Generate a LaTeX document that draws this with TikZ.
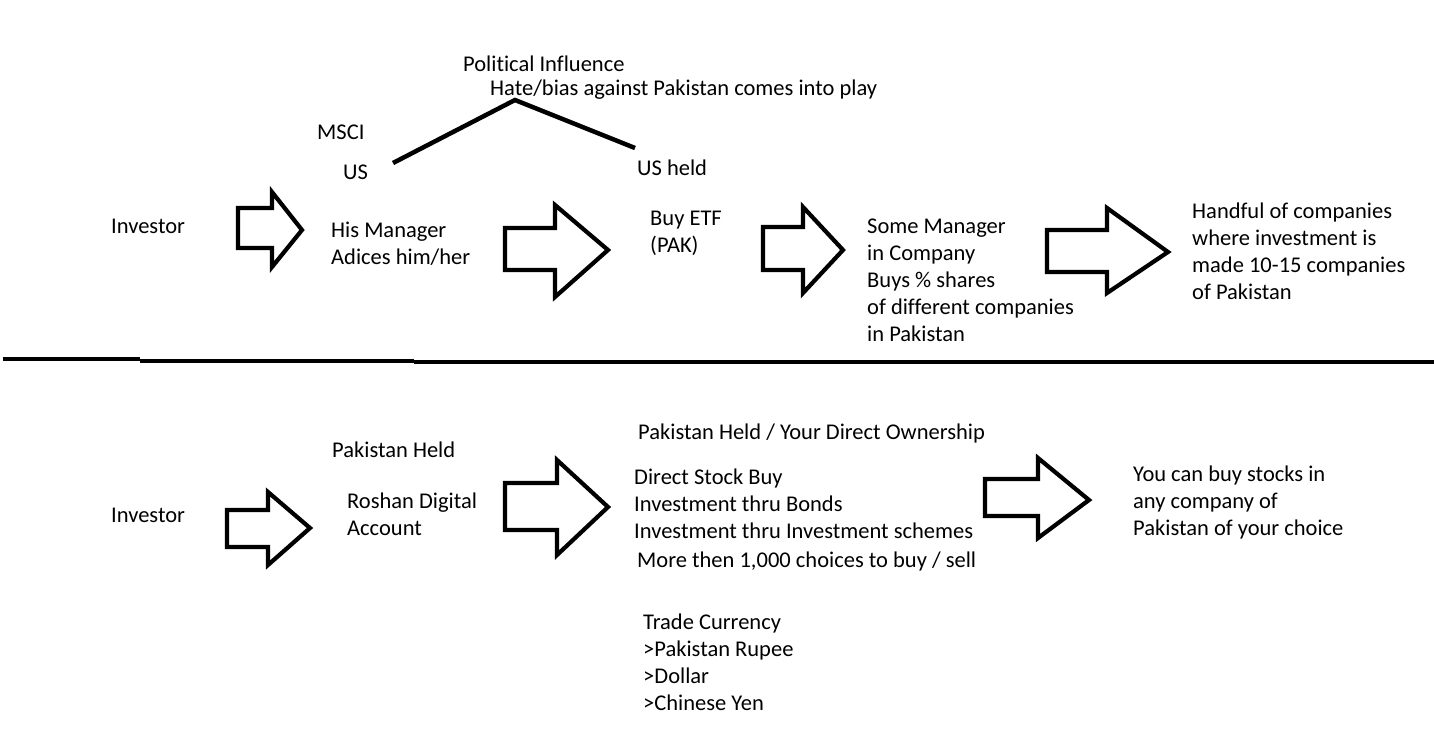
\documentclass[tikz,border=0pt]{standalone}
\usepackage{fontspec}
\setmainfont{Carlito}[Ligatures=NoCommon]
\newcommand\fatarrow[8]{%
  \draw[fatarr] (#1,#2) -- (#4,#2) -- (#4,#5) -- (#7,#8) -- (#4,#6) -- (#4,#3) -- (#1,#3) -- cycle;}
\tikzset{
  fatarr/.style={line width=4.2pt, line join=miter, fill=white},
  txt/.style={anchor=north west, inner sep=0pt, align=left, font=\fontsize{22.5}{27}\selectfont},
  stroke/.style={line width=4.5pt},
}
\begin{document}
\begin{tikzpicture}[x=1pt,y=-1pt]
\useasboundingbox (0,0) rectangle (1434,755);
\fill[white] (0,0) rectangle (1434,755);
% ---------- top row ----------
\node[txt] (pol)   at (463,52)  {\strut Political Influence};
\node[txt] (hate)  at (490,76)  {\strut Hate/bias against Pakistan comes into play};
\node[txt] (msci)  at (317,120) {\strut MSCI};
\node[txt] (us)    at (343,160) {\strut US};
\node[txt] (ush)   at (637,156) {\strut US held};
\node[txt] (inv1)  at (111,214) {\strut Investor};
\node[txt] (mgr)   at (331,218) {\strut His Manager\\Adices him/her};
\node[txt] (etf)   at (650,206) {\strut Buy ETF\\(PAK)};
\node[txt] (some)  at (867,214) {\strut Some Manager\\in Company\\Buys \% shares\\of different companies\\in Pakistan};
\node[txt] (hand)  at (1192,199) {\strut Handful of companies\\where investment is\\made 10-15 companies\\of Pakistan};
\coordinate (pl) at (393,163);
\coordinate (pt) at (515,100);
\coordinate (pr) at (635,148);
\draw[stroke] (pl) -- (pt) -- (pr);
\fatarrow{238}{208}{248}{272}{192}{267}{302}{230}
\fatarrow{505}{228}{270}{555}{205}{297}{608}{250}
\fatarrow{763}{227}{270}{803}{207}{293}{843}{250}
\fatarrow{1047}{230}{272}{1107}{208}{293}{1168}{252}
% ---------- divider ----------
\coordinate (d0) at (3,359);
\coordinate (d1) at (140,359);
\coordinate (d2) at (140,361);
\coordinate (d3) at (414,361);
\coordinate (d4) at (414,362);
\coordinate (d5) at (1434,362);
\draw[line width=4.5pt] (d0) -- (d1);
\draw[line width=4.5pt] (d2) -- (d3);
\draw[line width=4.5pt] (d4) -- (d5);
% ---------- bottom row ----------
\node[txt] (pkh)   at (332,438) {\strut Pakistan Held};
\node[txt] (rda)   at (347,489) {\strut Roshan Digital\\Account};
\node[txt] (inv2)  at (111,503) {\strut Investor};
\node[txt] (own)   at (638,420) {\strut Pakistan Held / Your Direct Ownership};
\node[txt] (dir)   at (634,465) {\strut Direct Stock Buy\\Investment thru Bonds\\Investment thru Investment schemes};
\node[txt] (more)  at (637,548) {\strut More then 1,000 choices to buy / sell};
\node[txt] (cur)   at (643,610) {\strut Trade Currency\\>Pakistan Rupee\\>Dollar\\>Chinese Yen};
\node[txt] (you)   at (1133,462) {\strut You can buy stocks in\\any company of\\Pakistan of your choice};
\fatarrow{227}{510}{547}{268}{492}{565}{310}{528}
\fatarrow{505}{483}{530}{557}{460}{555}{608}{507}
\fatarrow{985}{479}{516}{1038}{458}{538}{1089}{500}
\end{tikzpicture}
\end{document}
